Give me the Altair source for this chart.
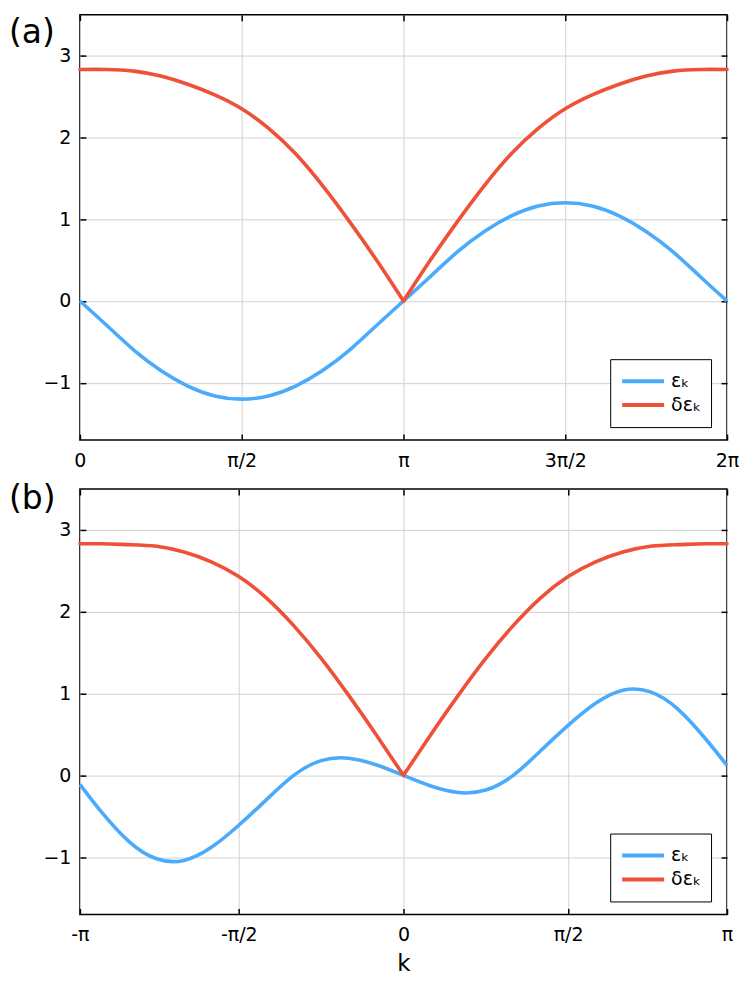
import math
import altair as alt
import pandas as pd

PI = math.pi

# ---------------- data ----------------
# panel (a): k from 0 to 2π in steps of π/12
k_a = [i * PI / 12 for i in range(25)]
eps_a = [0.00, -0.30, -0.60, -0.85, -1.04, -1.16, -1.20, -1.16, -1.04, -0.85, -0.60, -0.30,
         0.00, 0.30, 0.60, 0.85, 1.04, 1.16, 1.20, 1.16, 1.04, 0.85, 0.60, 0.30, 0.00]
deps_a = [2.83, 2.83, 2.81, 2.75, 2.65, 2.52, 2.35, 2.11, 1.80, 1.41, 0.97, 0.50,
          0.00, 0.50, 0.97, 1.41, 1.80, 2.11, 2.35, 2.52, 2.65, 2.75, 2.81, 2.83, 2.83]
cusp_a = PI

# panel (b): k from about -π to π
k_b = [-3.087, -2.880, -2.618, -2.356, -2.094, -1.833, -1.571, -1.309, -1.047, -0.785, -0.524, -0.262,
       0.0, 0.262, 0.524, 0.785, 1.047, 1.309, 1.571, 1.833, 2.094, 2.356, 2.618, 2.880, 3.087]
eps_b = [-0.11, -0.45, -0.81, -1.02, -1.04, -0.88, -0.61, -0.30, 0.00, 0.18, 0.21, 0.13,
         0.00, -0.13, -0.21, -0.18, 0.00, 0.30, 0.61, 0.88, 1.04, 1.02, 0.81, 0.45, 0.12]
deps_b = [2.83, 2.83, 2.82, 2.80, 2.73, 2.61, 2.43, 2.17, 1.83, 1.43, 0.98, 0.50,
          0.00, 0.50, 0.98, 1.43, 1.83, 2.17, 2.43, 2.61, 2.73, 2.80, 2.82, 2.83, 2.83]
cusp_b = 0.0

series_names = ["εₖ", "δεₖ"]
series_colors = ["#4aabfc", "#ee5038"]

xa_domain = [0.0, 2 * PI]
xa_ticks = [0.0, PI / 2, PI, 3 * PI / 2, 2 * PI]
xa_labels = ["0", "π/2", "π", "3π/2", "2π"]

xb_domain = [-3.087, 3.087]
xb_ticks = [-3.087, -PI / 2, 0.0, PI / 2, 3.087]
xb_labels = ["-π", "-π/2", "0", "π/2", "π"]

y_domain = [-1.7, 3.5]
y_ticks = [-1, 0, 1, 2, 3]

W, H = 648, 426
FONT = "DejaVu Sans"
TICK = alt.ExprRef("-6")
LEG_W, LEG_H = 96, 68


def label_expr(vals, labs):
    parts = [f"abs(datum.value - ({v!r})) < 1e-6 ? '{l}'" for v, l in zip(vals, labs)]
    return " : ".join(parts) + " : ''"


def make_df(k, eps, deps, cusp):
    rows = []
    for kk, e in zip(k, eps):
        rows.append({"k": kk, "v": e, "series": series_names[0], "seg": 0})
    for kk, d in zip(k, deps):
        if kk <= cusp + 1e-9:
            rows.append({"k": kk, "v": d, "series": series_names[1], "seg": 1})
        if kk >= cusp - 1e-9:
            rows.append({"k": kk, "v": d, "series": series_names[1], "seg": 2})
    return pd.DataFrame(rows)


def panel(df, xdom, xticks, xlabels, tag, tag_y, xtitle):
    xscale = alt.Scale(domain=xdom, nice=False, zero=False)
    yscale = alt.Scale(domain=y_domain, nice=False, zero=False)
    color = alt.Color(
        "series:N",
        scale=alt.Scale(domain=series_names, range=series_colors),
        legend=alt.Legend(
            title=None, orient="none",
            legendX=W - 21 - LEG_W, legendY=H - 13 - LEG_H,
            symbolType="stroke", symbolSize=42 * 42, symbolStrokeWidth=4,
            labelFontSize=19, labelFont=FONT, labelColor="black",
            padding=10, strokeColor="black", fillColor="white",
            clipHeight=24, rowPadding=0, labelOffset=5,
        ),
    )
    axis_kw = dict(
        orient="bottom", values=xticks, labelExpr=label_expr(xticks, xlabels),
        grid=True, domain=False, tickSize=TICK, labelPadding=17,
        labelFlush=False, labelOverlap=False,
    )
    if xtitle:
        xaxis = alt.Axis(title=xtitle, titleFontSize=23, titleFontWeight="normal",
                         titlePadding=8, titleFont=FONT, titleColor="black", **axis_kw)
    else:
        xaxis = alt.Axis(title=None, **axis_kw)
    yaxis = alt.Axis(
        orient="left", values=y_ticks, grid=True, domain=False, tickSize=TICK,
        labelPadding=15, labelOverlap=False, title=None,
    )
    blue = alt.Chart(df).transform_filter(
        alt.datum.series == series_names[0]
    ).mark_line(strokeWidth=3.6, interpolate="natural").encode(
        x=alt.X("k:Q", scale=xscale, axis=xaxis),
        y=alt.Y("v:Q", scale=yscale, axis=yaxis),
        color=color,
        detail="seg:N",
    )
    red = alt.Chart(df).transform_filter(
        alt.datum.series == series_names[1]
    ).mark_line(strokeWidth=3.6, interpolate="natural", strokeCap="round").encode(
        x=alt.X("k:Q", scale=xscale, axis=None),
        y=alt.Y("v:Q", scale=yscale, axis=None),
        color=color,
        detail="seg:N",
    )
    mirror = alt.Chart(df).mark_point(opacity=0).encode(
        x=alt.X("k:Q", scale=xscale, axis=alt.Axis(
            orient="top", values=xticks, labels=False, grid=False, domain=False,
            tickSize=TICK, title=None)),
        y=alt.Y("v:Q", scale=yscale, axis=alt.Axis(
            orient="right", values=y_ticks, labels=False, grid=False, domain=False,
            tickSize=TICK, title=None)),
    )
    text = alt.Chart(pd.DataFrame({"t": [tag]})).mark_text(
        align="left", baseline="alphabetic", fontSize=33, font=FONT, color="black"
    ).encode(text="t:N", x=alt.value(-71), y=alt.value(tag_y))
    return alt.layer(blue, red, mirror, text).resolve_axis(
        x="independent", y="independent"
    ).properties(width=W, height=H)


df_a = make_df(k_a, eps_a, deps_a, cusp_a)
df_b = make_df(k_b, eps_b, deps_b, cusp_b)

pa = panel(df_a, xa_domain, xa_ticks, xa_labels, "(a)", 28, None)
pb = panel(df_b, xb_domain, xb_ticks, xb_labels, "(b)", 20, "k")

chart = alt.vconcat(pa, pb, spacing=49, bounds="flush").resolve_scale(
    color="independent"
).resolve_legend(color="independent").properties(
    padding={"left": 0, "top": 4, "right": 0, "bottom": 0}
).configure(font=FONT).configure_view(
    stroke="black", strokeWidth=1.5
).configure_axis(
    labelFont=FONT, labelFontSize=19, labelColor="black",
    tickColor="black", tickWidth=1.5,
    gridColor="#d2d2d2", gridWidth=1,
)

chart.save("out.html", embed_options={"renderer": "svg", "actions": False})
